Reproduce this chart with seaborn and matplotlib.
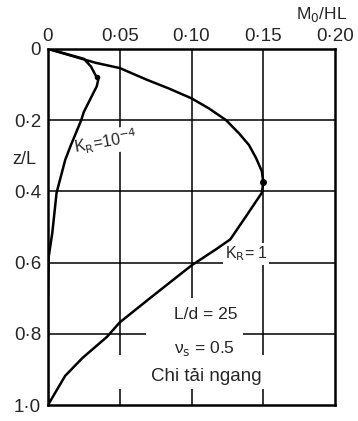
import matplotlib
matplotlib.use("Agg")
import matplotlib.pyplot as plt
from matplotlib.patches import Rectangle
import seaborn as sns
import pandas as pd

# values (M0/HL against z/L)
z_kr1 = [0, 0.025, 0.039, 0.054, 0.087, 0.111, 0.139, 0.167, 0.20, 0.237, 0.27,
         0.307, 0.344, 0.375, 0.404, 0.47, 0.535, 0.563, 0.608, 0.697, 0.768,
         0.809, 0.868, 0.918, 1.0]
m_kr1 = [0, 0.021, 0.033, 0.050, 0.069, 0.084, 0.10, 0.112, 0.124, 0.133, 0.140,
         0.145, 0.149, 0.150, 0.149, 0.138, 0.127, 0.117, 0.10, 0.072, 0.050,
         0.041, 0.024, 0.012, 0]

z_kr4 = [0, 0.028, 0.05, 0.073, 0.087, 0.105, 0.129, 0.177, 0.202, 0.27, 0.312,
         0.404, 0.517, 0.584, 0.70, 0.85, 1.0]
m_kr4 = [0, 0.025, 0.030, 0.033, 0.035, 0.034, 0.031, 0.025, 0.023, 0.016, 0.012,
         0.006, 0.003, 0.0005, 0.0, 0.0, 0.0]

x_ticks = [0, 0.05, 0.10, 0.15, 0.20]
x_labels = ["0", "0·05", "0·10", "0·15", "0·20"]
y_ticks = [0, 0.2, 0.4, 0.6, 0.8, 1.0]
y_labels = ["0", "0·2", "0·4", "0·6", "0·8", "1·0"]

sns.set_style("white")
plt.rcParams["font.family"] = ["Liberation Sans", "DejaVu Sans"]

fig = plt.figure(figsize=(3.58, 4.21), dpi=100)
ax = fig.add_axes([0.134, 0.038, 0.802, 0.846])

# grid lines drawn by hand so text boxes can break them
for x in x_ticks[1:-1]:
    ax.axvline(x, color="black", lw=1.1, zorder=1)
for y in y_ticks[1:-1]:
    ax.axhline(y, color="black", lw=1.1, zorder=1)

# blank area behind the annotation block
ax.add_patch(Rectangle((0.068, 0.70), 0.068, 0.16, facecolor="white",
                       edgecolor="none", zorder=1.5))
ax.add_patch(Rectangle((0.046, 0.86), 0.106, 0.095, facecolor="white",
                       edgecolor="none", zorder=1.5))

df1 = pd.DataFrame({"m": m_kr1, "z": z_kr1})
df4 = pd.DataFrame({"m": m_kr4, "z": z_kr4})
sns.lineplot(data=df1, x="m", y="z", sort=False, estimator=None,
             color="black", lw=1.8, ax=ax, zorder=3)
sns.lineplot(data=df4, x="m", y="z", sort=False, estimator=None,
             color="black", lw=1.8, ax=ax, zorder=3)

# maximum points
ax.plot([0.150], [0.375], "o", color="black", ms=4, zorder=4)
ax.plot([0.034], [0.08], "o", color="black", ms=3, zorder=4)

ax.set_xlim(0, 0.20)
ax.set_ylim(1.0, 0)
ax.xaxis.tick_top()
ax.set_xticks(x_ticks, x_labels, fontsize=13.5)
ax.set_yticks(y_ticks, y_labels, fontsize=13.5)
ax.tick_params(axis="x", length=0, pad=3)
ax.tick_params(axis="y", length=0, pad=5)
ax.set_xlabel("")
ax.set_ylabel("")
for s in ax.spines.values():
    s.set_linewidth(1.8)
    s.set_color("black")

bb = dict(facecolor="white", edgecolor="none", pad=1)
ax.text(0.040, 0.262, "K$_\\mathrm{R}$=10$^{-4}$", fontsize=11.5, rotation=10,
        ha="center", va="center", bbox=bb, zorder=2)
ax.text(0.138, 0.576, "K$_\\mathrm{R}$= 1", fontsize=11.5,
        ha="center", va="center", bbox=bb, zorder=2)
ax.text(0.110, 0.747, "L/d = 25", fontsize=12.5, ha="center", va="center", zorder=2)
ax.text(0.109, 0.84, "ν$_\\mathrm{s}$ = 0.5", fontsize=12.5, ha="center", va="center", zorder=2)
ax.text(0.110, 0.921, "Chi tải ngang", fontsize=13.5, ha="center", va="center", zorder=2)

fig.text(0.97, 0.965, "M$_0$/HL", fontsize=12.5, ha="right", va="center")
fig.text(0.068, 0.62, "z/L", fontsize=13, ha="center", va="center")

fig.savefig("out.png", dpi=100)
